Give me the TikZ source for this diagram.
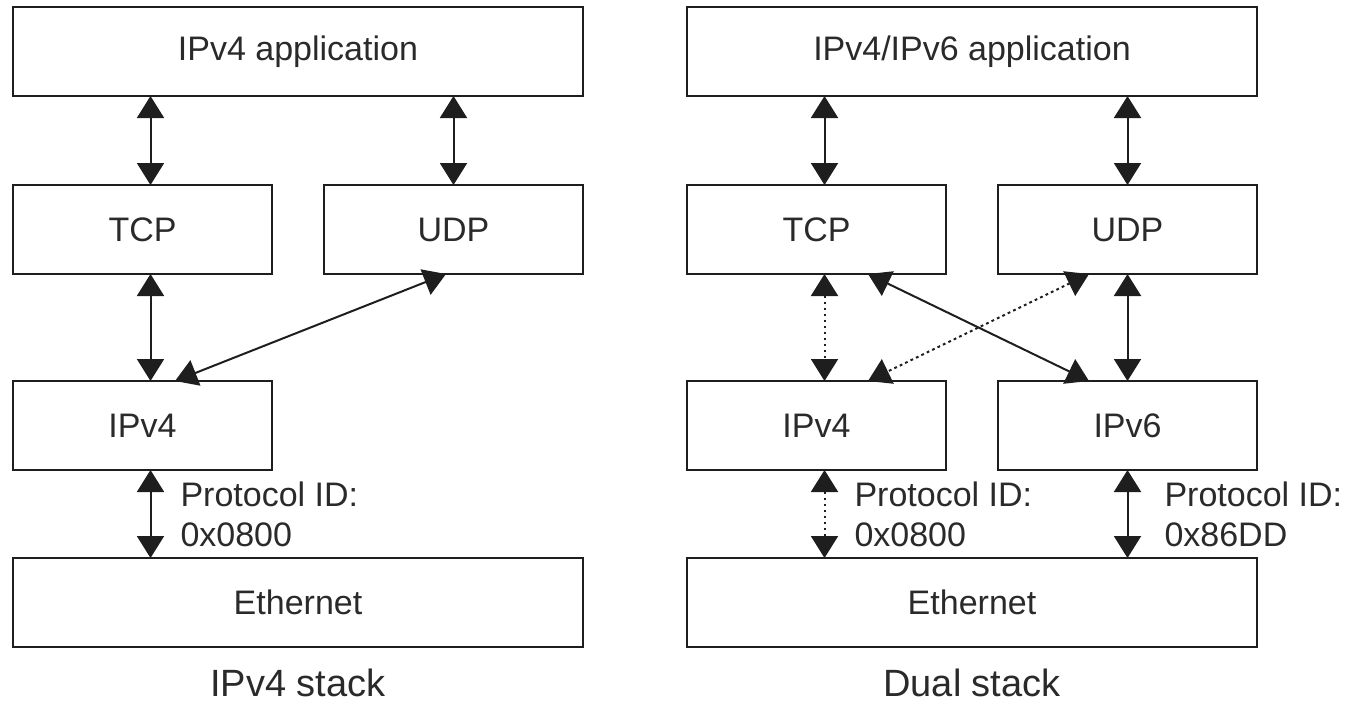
\documentclass[tikz,border=0pt]{standalone}
\usepackage{fontspec}
\setmainfont{Liberation Sans}
\usepackage{tikz}
\usetikzlibrary{positioning,arrows.meta}
\definecolor{inkline}{HTML}{1E1E1E}
\definecolor{inktext}{HTML}{2A2A2A}
\tikzset{
  stackbox/.style={draw=inkline, line width=1.3pt, rectangle, align=center, inner sep=0pt, outer sep=0pt, minimum width=129.5pt, minimum height=44.5pt, text=inktext},
  widebox/.style={stackbox, minimum width=285pt},
  dualarrow/.style={{Triangle[length=11pt,width=13.5pt]}-{Triangle[length=11pt,width=13.5pt]}, line width=1pt, draw=inkline},
  dotline/.style={dash pattern=on 1.4pt off 1.6pt},
  idnote/.style={align=left, inner sep=0pt, text=inktext},
  stacktitle/.style={inner sep=0pt, text=inktext, font=\fontsize{19}{23}\selectfont}
}

\begin{document}
\begin{tikzpicture}[x=1pt, y=1pt, font=\fontsize{17}{20}\selectfont]
  \useasboundingbox (0,0) rectangle (674,-354);

  % IPv4 stack
  \node[widebox] (app4) at (149,-25.75) {IPv4 application};
  \node[stackbox, below=44.5pt of app4.south west, anchor=north west] (tcp4) {TCP};
  \node[stackbox, right=26pt of tcp4] (udp4) {UDP};
  \node[stackbox, below=53.5pt of tcp4] (ip4) {IPv4};
  \node[widebox, below=44pt of ip4.south west, anchor=north west] (eth4) {Ethernet};
  \node[stacktitle, below=11pt of eth4] (title4) {IPv4 stack};

  % dual stack
  \node[widebox, right=52pt of app4] (app46) {IPv4/IPv6 application};
  \node[stackbox, below=44.5pt of app46.south west, anchor=north west] (tcp46) {TCP};
  \node[stackbox, right=26pt of tcp46] (udp46) {UDP};
  \node[stackbox, below=53.5pt of tcp46] (ip4d) {IPv4};
  \node[stackbox, right=26pt of ip4d] (ip6d) {IPv6};
  \node[widebox, below=44pt of ip4d.south west, anchor=north west] (eth46) {Ethernet};
  \node[stacktitle, below=11pt of eth46] (title46) {Dual stack};

  \draw[dualarrow] ([xshift=4pt]tcp4.north) -- ([xshift=4pt]tcp4.north |- app4.south);
  \draw[dualarrow] (udp4.north) -- (udp4.north |- app4.south);
  \draw[dualarrow] ([xshift=4pt]tcp4.south) -- ([xshift=4pt]ip4.north);
  \draw[dualarrow] ([xshift=16.25pt]ip4.north) -- ([xshift=-3.75pt]udp4.south);
  \draw[dualarrow] ([xshift=4pt]ip4.south) -- ([xshift=4pt]ip4.south |- eth4.north)
    node[midway, idnote, right=14.5pt] (pid4) {Protocol ID:\\0x0800};

  \draw[dualarrow] ([xshift=4pt]tcp46.north) -- ([xshift=4pt]tcp46.north |- app46.south);
  \draw[dualarrow] (udp46.north) -- (udp46.north |- app46.south);
  \draw[dualarrow, dotline] ([xshift=4pt]tcp46.south) -- ([xshift=4pt]ip4d.north);
  \draw[dualarrow] ([xshift=25.75pt]tcp46.south) -- ([xshift=-19.25pt]ip6d.north);
  \draw[dualarrow, dotline] ([xshift=-19.25pt]udp46.south) -- ([xshift=25.75pt]ip4d.north);
  \draw[dualarrow] (udp46.south) -- (ip6d.north);
  \draw[dualarrow, dotline] ([xshift=4pt]ip4d.south) -- ([xshift=4pt]ip4d.south |- eth46.north)
    node[midway, idnote, right=14.5pt] (pid4d) {Protocol ID:\\0x0800};
  \draw[dualarrow] (ip6d.south) -- (ip6d.south |- eth46.north)
    node[midway, idnote, right=18pt] (pid6d) {Protocol ID:\\0x86DD};
\end{tikzpicture}
\end{document}
